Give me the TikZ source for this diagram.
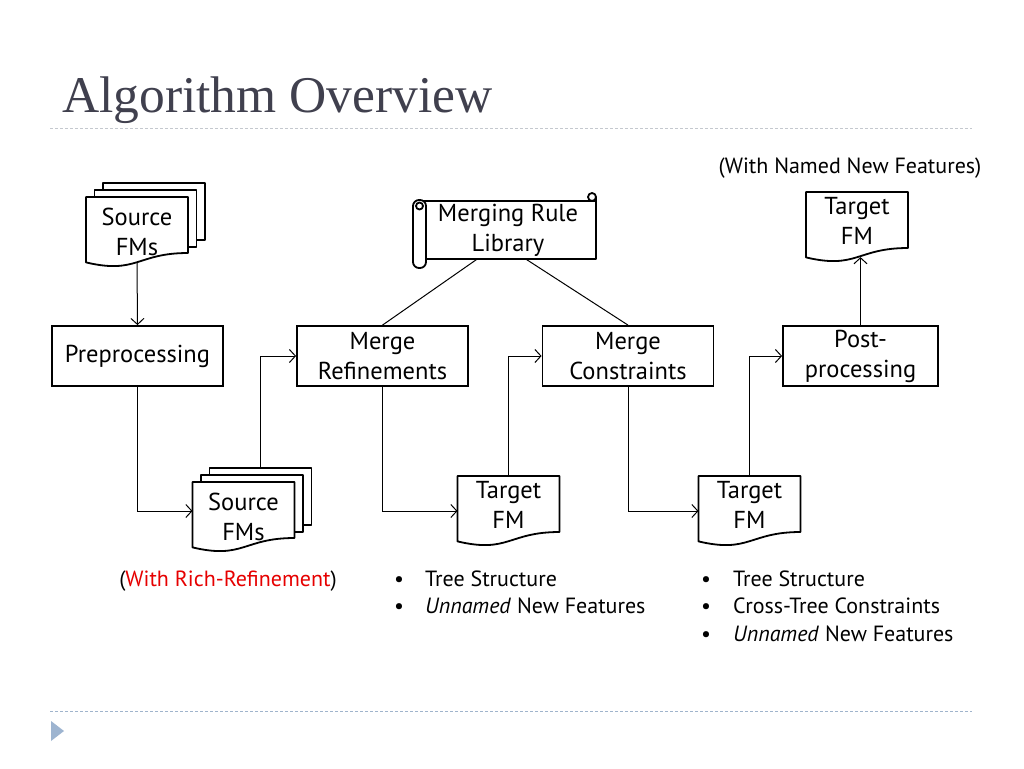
\documentclass[tikz,border=0pt]{standalone}
\usepackage{fontspec}
\setmainfont{PT Sans}
\newfontfamily\titlefont{Liberation Serif}
\usetikzlibrary{calc,arrows.meta}

\definecolor{titlegray}{RGB}{64,64,78}
\definecolor{rulegray}{RGB}{196,200,206}
\definecolor{ruleblue}{RGB}{160,180,204}
\definecolor{bulletblue}{RGB}{157,180,208}
\definecolor{richred}{RGB}{230,0,0}

\newcommand{\boxfont}{\fontsize{24.5}{30}\selectfont}
\newcommand{\notefont}{\fontsize{22}{27.5}\selectfont}

% wavy-bottom document outline round an empty node
\newcommand{\docoutline}[1]{%
  \draw[docline,fill=white] (#1.north west) -- (#1.north east)
    -- ($(#1.north east)!0.8!(#1.south east)$)
    .. controls ($(#1.north)!0.8!(#1.south)$) and ($(#1.north)!1.107!(#1.south)$)
    .. ($(#1.north west)!0.934!(#1.south west)$) -- cycle;}

\begin{document}
\begin{tikzpicture}[x=1pt,y=-1pt,
  procbox/.style={draw, line width=1.8pt, minimum width=171pt, minimum height=60pt, inner sep=0pt, align=center, font=\boxfont},
  docbox/.style={minimum width=102pt, minimum height=70pt, inner sep=0pt, outer sep=0pt},
  doctext/.style={align=center, font=\boxfont, inner sep=0pt},
  docline/.style={line width=1.8pt, line join=round},
  conn/.style={line width=1pt, -{Straight Barb[length=6pt,width=13pt]}},
  link/.style={line width=1pt},
  note/.style={font=\notefont, anchor=base west, inner sep=0pt}]
\fill[white] (0,0) rectangle (1024,768);
\useasboundingbox (0,0) rectangle (1024,768);

% title and rules
\node[anchor=base west, font=\titlefont\fontsize{51.5}{51.5}\selectfont, text=titlegray, inner sep=0pt] (title) at (62,112) {Algorithm Overview};
\draw[rulegray, line width=1pt, dash pattern=on 3pt off 2pt] (50,128) -- (972,128);
\draw[ruleblue, line width=1pt, dash pattern=on 3pt off 2pt] (50,711) -- (972,711);
\fill[bulletblue] (51,721) -- (64,731) -- (51,741) -- cycle;

% steps
\node[procbox] (pre) at (137.5,356) {Preprocessing};
\node[procbox] (mref) at (382.5,356) {Merge\\Refinements};
\node[procbox] (mcon) at (628,356) {Merge\\Constraints};
\node[procbox, minimum width=155pt] (post) at (860.5,356) {Post-\\processing};

% documents
\node[docbox] (src1) at (137,232) {};
\node[docbox] (src2) at (243.5,517) {};
\node[docbox] (tfm0) at (857,227) {};
\node[docbox] (tfm1) at (508.5,511) {};
\node[docbox] (tfm2) at (749.5,511) {};
\coordinate (tfm0b) at ($(tfm0.north)!0.93!(tfm0.south)$);

% connectors
\draw[conn] ($(src1.north)!0.93!(src1.south)$) -- (pre.north);
\draw[conn] (pre.south) |- ($(src2.west)+(0,-6)$);
\draw[conn] ($(src2.north west)+(68,-15)$) |- (mref.west);
\draw[conn] (mref.south) |- (tfm1.west);
\draw[conn] (tfm1.north) |- (mcon.west);
\draw[conn] (mcon.south) |- (tfm2.west);
\draw[conn] (tfm2.north) |- (post.west);
\draw[conn] (post.north) -- (post.north |- tfm0b);

% stacked pages
\draw[docline,fill=white] ($(src1.north west)+(17,-14)$) rectangle ($(src1.north east)+(17,43)$);
\draw[docline,fill=white] ($(src1.north west)+(8.5,-7)$) rectangle ($(src1.north east)+(8.5,50)$);
\docoutline{src1}
\draw[docline,fill=white] ($(src2.north west)+(17,-14)$) rectangle ($(src2.north east)+(17,43)$);
\draw[docline,fill=white] ($(src2.north west)+(8.5,-7)$) rectangle ($(src2.north east)+(8.5,50)$);
\docoutline{src2}
\docoutline{tfm0}
\docoutline{tfm1}
\docoutline{tfm2}
\node[doctext] (src1t) at (src1.center) {Source\\FMs};
\node[doctext] (src2t) at (src2.center) {Source\\FMs};
\node[doctext] (tfm0t) at ($(tfm0.center)+(0,-6)$) {Target\\FM};
\node[doctext] (tfm1t) at ($(tfm1.center)+(0,-6)$) {Target\\FM};
\node[doctext] (tfm2t) at ($(tfm2.center)+(0,-6)$) {Target\\FM};

% scroll
\draw[docline,fill=white] (420,201) -- (596,201) -- (596,259) -- (420,259) -- cycle;
\draw[docline,fill=white] (592,197) circle[radius=4pt];
\draw[docline] (596,197) -- (596,205);
\draw[docline,fill=white,rounded corners=6pt] (413,200) rectangle (426,268);
\draw[docline] (419.5,206) circle[radius=3.5pt];
\node[doctext, minimum width=170pt, minimum height=58pt] (lib) at (508,230) {Merging Rule\\Library};
\draw[link] ($(lib.south)+(-31,0)$) -- (mref.north);
\draw[link] ($(lib.south)+(18,0)$) -- (mcon.north);

% notes
\node[note, anchor=base] (named) at (850,173) {(With Named New Features)};
\node[note, anchor=base] (rich) at (228,586) {(\textcolor{richred}{With Rich-Refinement})};
\node[note] (b1) at (394,586) {\makebox[31pt][l]{•}Tree Structure};
\node[note] (b2) at (394,613.5) {\makebox[31pt][l]{•}\textit{Unnamed} New Features};
\node[note] (c1) at (701,586) {\makebox[32pt][l]{•}Tree Structure};
\node[note] (c2) at (701,613.5) {\makebox[32pt][l]{•}Cross-Tree Constraints};
\node[note] (c3) at (701,641) {\makebox[32pt][l]{•}\textit{Unnamed} New Features};
\end{tikzpicture}
\end{document}
